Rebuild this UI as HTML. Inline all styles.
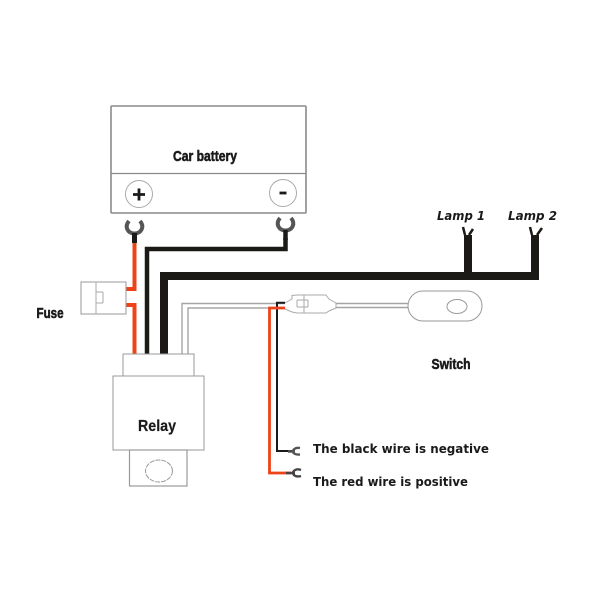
<!DOCTYPE html>
<html><head><meta charset="utf-8"><style>
html,body{margin:0;padding:0;background:#fff;width:600px;height:600px;overflow:hidden}
svg{display:block;filter:blur(0.35px)}
text{fill:#1a1a1a}
.h{font-family:"DejaVu Sans",sans-serif;font-weight:bold;font-size:12px}
.o{font-style:oblique}
.b{font-family:"Liberation Sans",sans-serif;font-weight:bold;stroke:#1a1a1a;stroke-width:.55px}
</style></head><body>
<svg width="600" height="600" viewBox="0 0 600 600" xmlns="http://www.w3.org/2000/svg" fill="none">
<!-- battery -->
<rect x="111" y="106" width="195" height="107" rx="1" stroke="#8a8a8a" stroke-width="1.6" fill="#fff"/>
<path d="M111 173.500H306" stroke="#8a8a8a" stroke-width="1.300"/>
<circle cx="139" cy="194" r="13.500" stroke="#aaa" stroke-width="1"/>
<circle cx="283" cy="193" r="13.500" stroke="#aaa" stroke-width="1"/>
<path d="M133 194.500H145M139 188.500V200.500" stroke="#1a1a1a" stroke-width="2.800"/>
<path d="M279.500 193H286.500" stroke="#1a1a1a" stroke-width="2.800"/>
<text class="b" x="205" y="161" text-anchor="middle" font-size="14.500" textLength="64" lengthAdjust="spacingAndGlyphs">Car battery</text>
<!-- clips -->
<path d="M129 221C124 227 128 233.500 134.500 233.500C141 233.500 145 227 140 221" stroke="#555" stroke-width="4"/>
<path d="M134.500 233V243" stroke="#1a1a1a" stroke-width="5"/>
<path d="M280 218C275 224 279 230.500 285.500 230.500C292 230.500 296 224 291 218" stroke="#555" stroke-width="4"/>
<path d="M285.500 230V240" stroke="#1a1a1a" stroke-width="4.500"/>
<!-- wires to relay -->
<path d="M134.500 243V289H125M125 305H134.500V354" stroke="#ee4318" stroke-width="4"/>
<path d="M285.500 238V249H147V354" stroke="#1c1a17" stroke-width="4.500"/>
<path d="M164 354V276H539" stroke="#1c1a17" stroke-width="8"/>
<path d="M468 235V276M535 235V280" stroke="#1c1a17" stroke-width="8"/>
<path d="M465 235L463 227M469 235L473 229M532 235L530 227M537 235L542 228" stroke="#1c1a17" stroke-width="2.500"/>
<path d="M182 354V303.500H287M188 354V308H287" stroke="#a5a5a5" stroke-width="1.400"/>
<!-- fuse -->
<rect x="81" y="282" width="45" height="32" stroke="#999" stroke-width="1" fill="#fff"/>
<path d="M96 282V314M96 292H103M96 303H103M103 292V303" stroke="#aaa" stroke-width="1"/>
<text class="b" x="50" y="318" text-anchor="middle" font-size="14.500" textLength="27" lengthAdjust="spacingAndGlyphs">Fuse</text>
<!-- relay -->
<rect x="123" y="354" width="71" height="22" stroke="#999" stroke-width="1" fill="#fff"/>
<rect x="113" y="376" width="91" height="74" stroke="#999" stroke-width="1" fill="#fff"/>
<rect x="129.500" y="450" width="57.500" height="36" stroke="#999" stroke-width="1.200" fill="#fff"/>
<ellipse cx="159" cy="471" rx="13.500" ry="11" stroke="#999" stroke-width="1" stroke-dasharray="5 1"/>
<text class="b" style="stroke-width:.2px" x="157" y="431" text-anchor="middle" font-size="15.500" textLength="38" lengthAdjust="spacingAndGlyphs">Relay</text>
<!-- connector -->
<path d="M285 303L292 299V295.500L297 295H326L329 299L336 303V308L329 311L326 313H297L292 312L285 309" stroke="#aaa" stroke-width="1" fill="#fff"/>
<path d="M304 295V313M297 300H308M297 307H308M308 300V307M297 300V307" stroke="#aaa" stroke-width="1"/>
<path d="M336 303.500H408M336 307.500H408" stroke="#a5a5a5" stroke-width="1.400"/>
<path d="M285 302.800H277V451H293" stroke="#1a1a1a" stroke-width="2"/>
<path d="M285 308H269.500V473H291" stroke="#ee4318" stroke-width="2.800"/>
<path d="M300 448C295 447 293 450 293 451.500C293 453 295 455 300 454.500M288 451.500H295" stroke="#555" stroke-width="2.400"/>
<path d="M301 470C296 468 293 471 293 473C293 475 296 477.500 301 476M286 473H295" stroke="#444" stroke-width="2.400"/>
<!-- switch -->
<rect x="408" y="291" width="74" height="30" rx="15" stroke="#999" stroke-width="1" fill="#fff"/>
<ellipse cx="457" cy="306.500" rx="10" ry="7" stroke="#999" stroke-width="1"/>
<text class="b" x="451" y="369" text-anchor="middle" font-size="14.500" textLength="39" lengthAdjust="spacingAndGlyphs">Switch</text>
<!-- handwritten labels -->
<text class="h o" x="437" y="220" textLength="48" lengthAdjust="spacingAndGlyphs">Lamp 1</text>
<text class="h o" x="508" y="220" textLength="49" lengthAdjust="spacingAndGlyphs">Lamp 2</text>
<text class="h" x="313" y="453" textLength="176" lengthAdjust="spacingAndGlyphs">The black wire is negative</text>
<text class="h" x="313" y="486" textLength="155" lengthAdjust="spacingAndGlyphs">The red wire is positive</text>
</svg>
</body></html>
